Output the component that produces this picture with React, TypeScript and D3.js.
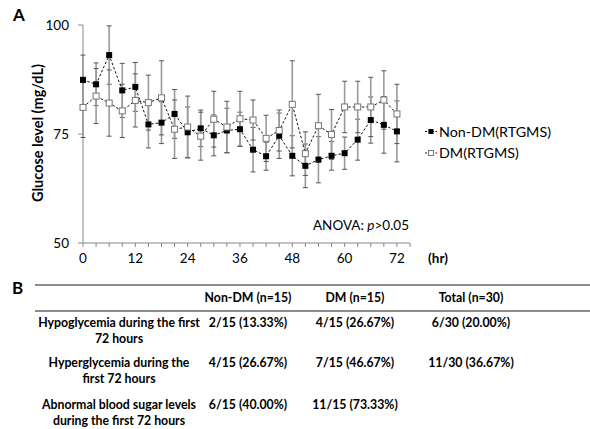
import React from "react"
import * as d3 from "d3"

const hours = [0, 3, 6, 9, 12, 15, 18, 21, 24, 27, 30, 33, 36, 39, 42, 45, 48, 51, 54, 57, 60, 63, 66, 69, 72]
const nonDM = [87.4, 86.4, 93.1, 85.0, 85.8, 77.2, 77.6, 79.6, 75.4, 76.3, 74.7, 75.8, 76.1, 71.4, 69.9, 74.6, 70.0, 67.7, 69.1, 70.0, 70.6, 73.7, 78.2, 77.1, 75.6]
const nonDMsd = [5.7, 4.9, 6.7, 6.2, 5.6, 5.4, 4.8, 5.6, 5.8, 4.2, 4.7, 5.1, 3.9, 5.1, 3.2, 5.2, 4.6, 5.0, 5.3, 3.3, 3.7, 4.7, 5.3, 6.5, 7.0]
const dm = [81.1, 83.7, 82.1, 80.3, 82.7, 82.2, 83.3, 76.1, 76.6, 74.5, 78.4, 76.6, 78.5, 78.2, 74.0, 75.8, 81.8, 70.5, 76.9, 74.9, 81.2, 81.2, 81.2, 82.8, 79.6]
const dmSd = [6.9, 6.3, 7.6, 6.1, 6.1, 6.3, 8.5, 6.7, 7.1, 5.5, 6.4, 5.9, 6.3, 4.6, 5.3, 4.7, 10.0, 5.0, 7.2, 5.7, 5.9, 5.9, 6.8, 6.7, 6.8]
const xTickLabels = [0, 12, 24, 36, 48, 60, 72]
const yTickLabels = [50, 75, 100]
const seriesNames = ["Non-DM(RTGMS)", "DM(RTGMS)"]

const tableHeader = ["Non-DM (n=15)", "DM (n=15)", "Total (n=30)"]
const tableRows = [
  { label: ["Hypoglycemia during the first", "72 hours"], values: ["2/15 (13.33%)", "4/15 (26.67%)", "6/30 (20.00%)"] },
  { label: ["Hyperglycemia during the", "first 72 hours"], values: ["4/15 (26.67%)", "7/15 (46.67%)", "11/30 (36.67%)"] },
  { label: ["Abnormal blood sugar levels", "during the first 72 hours"], values: ["6/15 (40.00%)", "11/15 (73.33%)", ""] },
]

const font = "Lato, 'Open Sans', sans-serif"

const App = () => {
  const x = d3.scaleLinear().domain([0, 75]).range([83, 410])
  const y = d3.scaleLinear().domain([50, 100]).range([243, 25])

  const line = d3
    .line<number>()
    .x((_, i) => x(hours[i]))
    .y((d) => y(d))

  const minorTicks = d3.range(0, 76, 3)

  const errorBars = (vals: number[], sds: number[], key: string) =>
    vals.map((v, i) => {
      const cx = x(hours[i])
      const top = y(v + sds[i])
      const bot = y(v - sds[i])
      return (
        <g key={key + i}>
          <line x1={cx} x2={cx} y1={top} y2={bot} stroke="#9a9a9a" strokeWidth={1.6} />
          <line x1={cx - 2.5} x2={cx + 2.5} y1={top} y2={top} stroke="#555" strokeWidth={1} />
          <line x1={cx - 2.5} x2={cx + 2.5} y1={bot} y2={bot} stroke="#555" strokeWidth={1} />
        </g>
      )
    })

  const colX = [248, 355, 471]
  const rowY = [323, 363, 405]
  const tfs = 12.3

  return (
    <svg width={590} height={429} style={{ position: "absolute", left: 0, top: 0, fontFamily: font }}>
      <rect width={590} height={429} fill="#fff" />
      <text x={13} y={21} fontSize={17} fontWeight="bold">A</text>

      {/* axes */}
      <line x1={83} x2={83} y1={25} y2={243} stroke="#888" />
      <line x1={83} x2={410} y1={243} y2={243} stroke="#888" />
      {yTickLabels.map((t) => (
        <g key={"y" + t}>
          <line x1={78} x2={83} y1={y(t)} y2={y(t)} stroke="#888" />
          <text x={69} y={y(t)} dy="0.35em" textAnchor="end" fontSize={13.5}>{t}</text>
        </g>
      ))}
      {minorTicks.map((t) => (
        <line key={"xt" + t} x1={x(t)} x2={x(t)} y1={243} y2={247} stroke="#888" />
      ))}
      {xTickLabels.map((t) => (
        <text key={"xl" + t} x={x(t)} y={258} dy="0.35em" textAnchor="middle" fontSize={13.5}>{t}</text>
      ))}
      <text x={438} y={258} dy="0.35em" textAnchor="middle" fontSize={13.5} fontWeight="bold">(hr)</text>
      <text
        transform={`translate(38, 133) rotate(-90)`}
        textAnchor="middle"
        dy="0.35em"
        fontSize={14.5}
        fontWeight="bold"
      >
        Glucose level (mg/dL)
      </text>

      {errorBars(nonDM, nonDMsd, "en")}
      {errorBars(dm, dmSd, "ed")}

      <path d={line(nonDM) ?? ""} fill="none" stroke="#111" strokeWidth={1} strokeDasharray="2.5,2" />
      <path d={line(dm) ?? ""} fill="none" stroke="#111" strokeWidth={1} strokeDasharray="2.5,2" />

      {nonDM.map((v, i) => (
        <rect key={"mn" + i} x={x(hours[i]) - 3} y={y(v) - 3} width={6} height={6} fill="#000" />
      ))}
      {dm.map((v, i) => (
        <rect key={"md" + i} x={x(hours[i]) - 3} y={y(v) - 3} width={6} height={6} fill="#fff" stroke="#777" strokeWidth={1} />
      ))}

      <text x={409} y={225} dy="0.35em" textAnchor="end" fontSize={13.5}>
        ANOVA: <tspan fontStyle="italic">p</tspan>&gt;0.05
      </text>

      {/* legend */}
      {seriesNames.map((s, i) => {
        const ly = 131.5 + i * 21.5
        return (
          <g key={s}>
            <line x1={425} x2={437} y1={ly} y2={ly} stroke="#111" strokeDasharray="2,1.5" />
            {i === 0 ? (
              <rect x={428.5} y={ly - 2.5} width={5} height={5} fill="#000" />
            ) : (
              <rect x={428.5} y={ly - 2.5} width={5} height={5} fill="#fff" stroke="#777" />
            )}
            <text x={439} y={ly} dy="0.35em" fontSize={14.3}>{s}</text>
          </g>
        )
      })}

      {/* table B */}
      <text x={12} y={294} fontSize={17} fontWeight="bold">B</text>
      <line x1={35} x2={590} y1={285} y2={285} stroke="#666" strokeWidth={1.3} />
      <line x1={35} x2={590} y1={311} y2={311} stroke="#666" strokeWidth={1.3} />
      {tableHeader.map((h, i) => (
        <text key={h} x={colX[i]} y={297.5} dy="0.35em" textAnchor="middle" fontSize={tfs} fontWeight="bold">{h}</text>
      ))}
      {tableRows.map((r, ri) => (
        <g key={"r" + ri}>
          {r.label.map((l, li) => (
            <text key={l} x={119} y={rowY[ri] + li * 16} dy="0.35em" textAnchor="middle" fontSize={tfs} fontWeight="bold">{l}</text>
          ))}
          {r.values.map((v, vi) => (
            <text key={"v" + vi} x={colX[vi]} y={rowY[ri]} dy="0.35em" textAnchor="middle" fontSize={tfs} fontWeight="bold">{v}</text>
          ))}
        </g>
      ))}
    </svg>
  )
}

export default App
